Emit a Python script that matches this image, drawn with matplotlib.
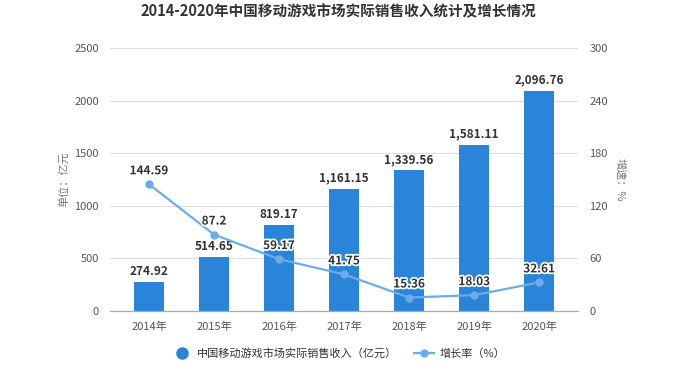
import matplotlib
matplotlib.use("Agg")
import matplotlib.pyplot as plt
import matplotlib.patheffects as pe
from matplotlib.lines import Line2D

plt.rcParams['font.family'] = ['Noto Sans CJK SC', 'DejaVu Sans']

# === data
years = ['2014年', '2015年', '2016年', '2017年', '2018年', '2019年', '2020年']
revenue = [274.92, 514.65, 819.17, 1161.15, 1339.56, 1581.11, 2096.76]
growth = [144.59, 87.2, 59.17, 41.75, 15.36, 18.03, 32.61]
revenue_labels = ['274.92', '514.65', '819.17', '1,161.15', '1,339.56', '1,581.11', '2,096.76']
growth_labels = ['144.59', '87.2', '59.17', '41.75', '15.36', '18.03', '32.61']

bar_color = '#2a84d9'
line_color = '#6badea'
tick_color = '#555555'

fig = plt.figure(figsize=(6.77, 3.70), dpi=100)
ax = fig.add_axes([0.1625, 0.1595, 0.6915, 0.7105])
ax2 = ax.twinx()

x = range(len(years))
ax.bar(x, revenue, width=0.46, color=bar_color, zorder=2)
for i, v in enumerate(revenue):
    ax.text(i, v + 40, revenue_labels[i], ha='center', va='bottom',
            fontsize=8.5, fontweight='bold', color='#333333', zorder=5)

ax.set_ylim(0, 2500)
ax.set_yticks([0, 500, 1000, 1500, 2000, 2500])
ax.set_xlim(-0.6, 6.6)
ax.set_xticks(list(x))
ax.set_xticklabels(years)
ax.grid(axis='y', color='#dddddd', linewidth=0.8, zorder=0)
ax.set_axisbelow(True)
ax.set_ylabel('单位：亿元', fontsize=8, color='#777777', labelpad=4)

ax2.plot(x, growth, color=line_color, linewidth=1.6, marker='o',
         markersize=5, zorder=4)
for i, v in enumerate(growth):
    ax2.text(i, v + 8, growth_labels[i], ha='center', va='bottom',
             fontsize=8.5, fontweight='bold', color='#333333', zorder=6,
             path_effects=[pe.withStroke(linewidth=2.5, foreground='white')])
ax2.set_ylim(0, 300)
ax2.set_yticks([0, 60, 120, 180, 240, 300])
ax2.set_ylabel('增速：%', fontsize=8, color='#777777', rotation=270, labelpad=12)

for a in (ax, ax2):
    for s in ['top', 'left', 'right']:
        a.spines[s].set_visible(False)
    a.spines['bottom'].set_color('#aaaaaa')
    a.tick_params(axis='both', length=0, labelsize=8, labelcolor=tick_color, pad=8)
ax2.patch.set_visible(False)
ax.set_zorder(0)
ax2.set_zorder(1)

fig.suptitle('2014-2020年中国移动游戏市场实际销售收入统计及增长情况',
             x=0.5, y=0.99, fontsize=10.5, fontweight='bold', color='#333333')

handles = [
    Line2D([], [], linestyle='none', marker='o', markersize=8,
           markerfacecolor=bar_color, markeredgecolor=bar_color),
    Line2D([], [], color=line_color, linewidth=1.6, marker='o', markersize=5),
]
fig.legend(handles, ['中国移动游戏市场实际销售收入（亿元）', '增长率（%）'],
           loc='center', bbox_to_anchor=(0.5, 0.045), ncol=2, frameon=False,
           fontsize=8, columnspacing=1.5, handlelength=1.8, handletextpad=0.5,
           labelcolor='#333333')

fig.savefig('out.png', dpi=100)
